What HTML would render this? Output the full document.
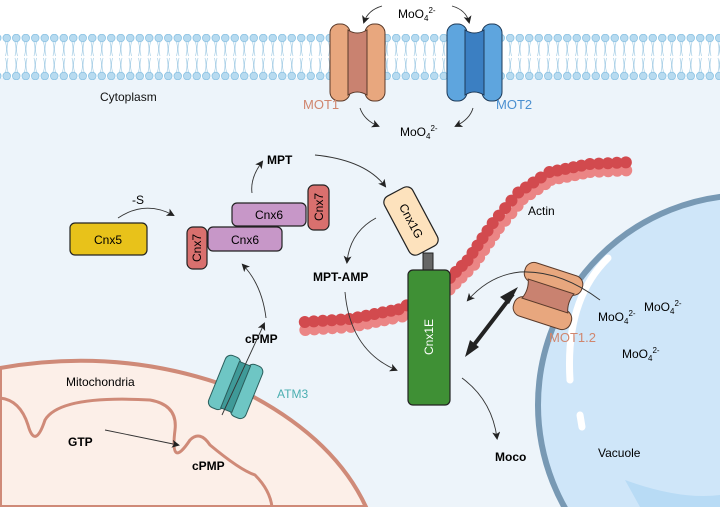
<!DOCTYPE html>
<html><head><meta charset="utf-8"><style>
html,body{margin:0;padding:0;background:#fff;width:720px;height:507px;overflow:hidden}
svg{display:block;font-family:"Liberation Sans",sans-serif}
</style></head><body>
<svg id="s" width="720" height="507" viewBox="0 0 720 507" xmlns="http://www.w3.org/2000/svg">
<defs>
<marker id="ah" markerWidth="8" markerHeight="8" refX="6" refY="4" orient="auto" markerUnits="userSpaceOnUse"><path d="M0,0 L8,4 L0,8 L2,4 Z" fill="#222"/></marker>
<pattern id="lip" width="9.5" height="46" patternUnits="userSpaceOnUse" x="2" y="34">
<circle cx="4.75" cy="4" r="3.8" fill="#b8dbf0" stroke="#8cc3e3" stroke-width="0.8"/>
<circle cx="4.75" cy="42" r="3.8" fill="#b8dbf0" stroke="#8cc3e3" stroke-width="0.8"/>
<path d="M3.5,8 q2,7 0,14 M6,8 q-2,7 0,14 M3.5,24 q2,7 0,14 M6,24 q-2,7 0,14" stroke="#a8cfe6" stroke-width="0.7" fill="none"/>
</pattern>
</defs>
<rect width="720" height="507" fill="#fff"/>
<rect x="0" y="78" width="720" height="429" fill="#edf4fa"/>
<rect x="0" y="34" width="720" height="46" fill="url(#lip)"/>
<text x="100" y="101" font-size="12" fill="#111">Cytoplasm</text>

<g>
<rect x="330" y="24" width="20" height="77" rx="9" fill="#e8a77e" stroke="#5a3a2a" stroke-width="1"/>
<rect x="365" y="24" width="20" height="77" rx="9" fill="#e8a77e" stroke="#5a3a2a" stroke-width="1"/>
<path d="M348,30 Q357,36 367,30 L367,95 Q357,89 348,95 Z" fill="#c98270" stroke="#5a3a2a" stroke-width="1"/>
</g>
<g>
<rect x="447" y="24" width="20" height="77" rx="9" fill="#5ea5de" stroke="#1e3a58" stroke-width="1"/>
<rect x="482" y="24" width="20" height="77" rx="9" fill="#5ea5de" stroke="#1e3a58" stroke-width="1"/>
<path d="M465,30 Q474,36 484,30 L484,95 Q474,89 465,95 Z" fill="#3b7fc2" stroke="#1e3a58" stroke-width="1"/>
</g>
<text x="398" y="18" font-size="12">MoO<tspan font-size="8" dy="3">4</tspan><tspan font-size="8" dy="-8">2-</tspan></text>
<text x="303" y="109" font-size="13" fill="#d0866e">MOT1</text>
<text x="496" y="109" font-size="13" fill="#4a8fd0">MOT2</text>
<text x="400" y="136" font-size="12">MoO<tspan font-size="8" dy="3">4</tspan><tspan font-size="8" dy="-8">2-</tspan></text>
<g fill="none" stroke="#333" stroke-width="0.9" marker-end="url(#ah)">
<path d="M382,6 Q368,10 364,22"/>
<path d="M452,6 Q466,10 469,22"/>
<path d="M360,108 Q364,120 378,126"/>
<path d="M473,108 Q470,119 456,126"/>
</g>

<g>
<circle cx="748" cy="405" r="210" fill="#cfe6f9" stroke="#7899b4" stroke-width="6"/>
<path d="M608,258 Q565,300 570,380" stroke="#fff" stroke-width="7" fill="none" stroke-linecap="round"/>
<path d="M580,415 L582,427" stroke="#fff" stroke-width="7" stroke-linecap="round"/>
<path d="M625,480 Q680,500 720,495 L720,507 L640,507 Z" fill="#b8dbf5"/>
</g>
<text x="644" y="311" font-size="12">MoO<tspan font-size="8" dy="3">4</tspan><tspan font-size="8" dy="-8">2-</tspan></text>
<text x="598" y="321" font-size="12">MoO<tspan font-size="8" dy="3">4</tspan><tspan font-size="8" dy="-8">2-</tspan></text>
<text x="622" y="358" font-size="12">MoO<tspan font-size="8" dy="3">4</tspan><tspan font-size="8" dy="-8">2-</tspan></text>
<text x="598" y="457" font-size="12">Vacuole</text>

<g id="actin"></g>
<text x="528" y="215" font-size="12">Actin</text>

<g transform="translate(548,296) rotate(18)">
<rect x="-30" y="-28" width="60" height="20" rx="9" fill="#e8a77e" stroke="#5a3a2a" stroke-width="1"/>
<rect x="-30" y="8" width="60" height="20" rx="9" fill="#e8a77e" stroke="#5a3a2a" stroke-width="1"/>
<path d="M-24,-10 Q-20,0 -24,10 L24,10 Q20,0 24,-10 Z" fill="#c98270" stroke="#5a3a2a" stroke-width="1"/>
</g>
<text x="549" y="342" font-size="13" fill="#d0866e">MOT1.2</text>
<path d="M600,300 Q560,270 520,272 Q490,275 468,300" fill="none" stroke="#333" stroke-width="0.9" marker-end="url(#ah)"/>

<g transform="translate(411,221) rotate(-28)">
<rect x="-16" y="-33" width="32" height="66" rx="7" fill="#fde2bd" stroke="#222" stroke-width="1.2"/>
<text x="0" y="4" font-size="12" text-anchor="middle" transform="rotate(90)">Cnx1G</text>
</g>
<rect x="423" y="253" width="10" height="20" fill="#666" stroke="#222" stroke-width="1"/>
<rect x="408" y="270" width="42" height="135" rx="5" fill="#3f9035" stroke="#222" stroke-width="1.2"/>
<text x="0" y="0" font-size="12" fill="#fff" text-anchor="middle" transform="translate(433,337) rotate(-90)">Cnx1E</text>
<path d="M470,350 L513,294" stroke="#222" stroke-width="4"/>
<path d="M465,357 L470,340 L479,347 Z M518,287 L509,304 L500,297 Z" fill="#222"/>

<rect x="70" y="223" width="77" height="32" rx="5" fill="#e8c21a" stroke="#222" stroke-width="1.2"/>
<text x="108" y="244" font-size="12" text-anchor="middle">Cnx5</text>
<text x="132" y="204" font-size="12">-S</text>
<path d="M118,218 Q145,200 173,215" fill="none" stroke="#333" stroke-width="0.9" marker-end="url(#ah)"/>
<rect x="232" y="203" width="74" height="23" rx="5" fill="#c797c8" stroke="#222" stroke-width="1.2"/>
<text x="269" y="219" font-size="12" text-anchor="middle">Cnx6</text>
<rect x="208" y="227" width="74" height="24" rx="5" fill="#c797c8" stroke="#222" stroke-width="1.2"/>
<text x="245" y="244" font-size="12" text-anchor="middle">Cnx6</text>
<rect x="308" y="185" width="21" height="45" rx="6" fill="#d9706e" stroke="#222" stroke-width="1.2"/>
<text font-size="12" text-anchor="middle" transform="translate(323,207) rotate(-90)">Cnx7</text>
<rect x="187" y="227" width="20" height="42" rx="6" fill="#d9706e" stroke="#222" stroke-width="1.2"/>
<text font-size="12" text-anchor="middle" transform="translate(201,248) rotate(-90)">Cnx7</text>

<text x="267" y="164" font-size="12" font-weight="bold">MPT</text>
<path d="M252,193 Q250,178 262,162" fill="none" stroke="#333" stroke-width="0.9" marker-end="url(#ah)"/>
<path d="M315,155 Q365,160 385,186" fill="none" stroke="#333" stroke-width="0.9" marker-end="url(#ah)"/>
<text x="313" y="281" font-size="12" font-weight="bold">MPT-AMP</text>
<path d="M376,218 Q350,232 347,262" fill="none" stroke="#333" stroke-width="0.9" marker-end="url(#ah)"/>
<path d="M345,292 Q350,350 396,370" fill="none" stroke="#333" stroke-width="0.9" marker-end="url(#ah)"/>
<text x="495" y="461" font-size="12" font-weight="bold">Moco</text>
<path d="M462,378 Q492,400 497,438" fill="none" stroke="#333" stroke-width="0.9" marker-end="url(#ah)"/>
<text x="245" y="343" font-size="12" font-weight="bold">cPMP</text>
<path d="M266,318 Q262,285 243,265" fill="none" stroke="#333" stroke-width="0.9" marker-end="url(#ah)"/>

<g>
<path d="M0,368 Q130,345 250,395 Q335,440 366,507 L0,507 Z" fill="#fcefe8" stroke="#cf8a78" stroke-width="4"/>
<path d="M0,398 Q20,400 28,425 Q35,450 45,420 Q60,395 150,400 Q178,405 175,430 Q170,470 190,440 Q200,430 210,445 Q240,470 255,475 Q270,490 272,507" fill="none" stroke="#cf8a78" stroke-width="3"/>
</g>
<text x="66" y="386" font-size="12">Mitochondria</text>
<g transform="translate(236,386) rotate(22)">
<rect x="-20" y="-27" width="16" height="56" rx="6" fill="#6ec6c4" stroke="#2a5e5c" stroke-width="1"/>
<rect x="4" y="-27" width="16" height="56" rx="6" fill="#6ec6c4" stroke="#2a5e5c" stroke-width="1"/>
<rect x="-6" y="-24" width="12" height="50" fill="#3f9a98" stroke="#2a5e5c" stroke-width="1"/>
</g>
<path d="M222,415 L264,324" fill="none" stroke="#333" stroke-width="0.9" marker-end="url(#ah)"/>
<text x="277" y="398" font-size="12" fill="#4aaeb0">ATM3</text>
<text x="68" y="446" font-size="12" font-weight="bold">GTP</text>
<path d="M105,430 L178,445" fill="none" stroke="#333" stroke-width="0.9" marker-end="url(#ah)"/>
<text x="192" y="470" font-size="12" font-weight="bold">cPMP</text>
</svg>
<script>
const pts=[[305,325],[350,322],[400,312],[440,292],[470,262],[495,225],[520,195],[550,175],[590,167],[635,165]];
const g=document.getElementById('actin');
function place(offset,col){
  for(let i=0;i<pts.length-1;i++){
    const [x1,y1]=pts[i],[x2,y2]=pts[i+1];
    const d=Math.hypot(x2-x1,y2-y1),n=Math.round(d/9);
    const nx=-(y2-y1)/d,ny=(x2-x1)/d;
    for(let k=0;k<n;k++){
      const t=k/n,x=x1+(x2-x1)*t,y=y1+(y2-y1)*t;
      const c=document.createElementNS('http://www.w3.org/2000/svg','circle');
      c.setAttribute('cx',x+nx*offset);c.setAttribute('cy',y+ny*offset);c.setAttribute('r',6);
      c.setAttribute('fill',col);
      
      
      g.appendChild(c);
    }
  }
}
place(5,'#eb8585');place(-3,'#d24a4e');
</script>
</body></html>
